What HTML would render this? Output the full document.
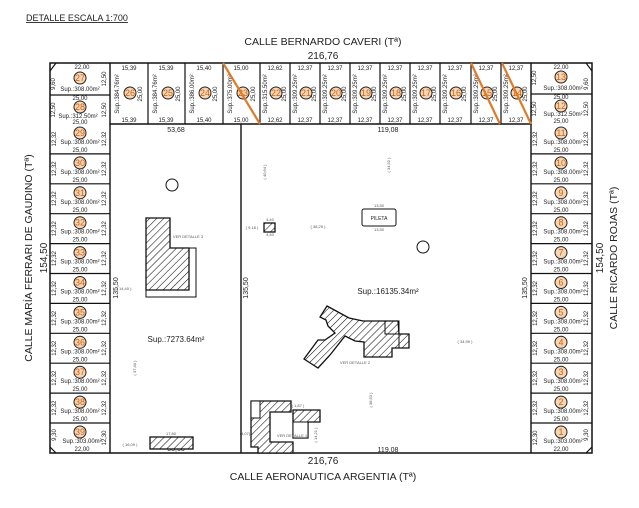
<!DOCTYPE html>
<html><head><meta charset="utf-8"><style>
body{margin:0;background:#fff}
svg{display:block}
text{font-family:"Liberation Sans",sans-serif;fill:#222}
.s{font-size:6px;text-anchor:middle}
.xs{font-size:4px;text-anchor:middle;fill:#555}
.n{font-size:9px;text-anchor:middle;fill:#c8641a}
.b{font-size:10px;text-anchor:middle}
.st{font-size:10.5px;text-anchor:middle}
.c{fill:#f7d6b4;stroke:#222;stroke-width:1}
.l{fill:#fff;stroke:#111;stroke-width:1.4}
.h{fill:url(#hp);stroke:#111;stroke-width:1.3}
</style></head><body>
<svg width="639" height="508" viewBox="0 0 639 508" xmlns="http://www.w3.org/2000/svg">
<defs><pattern id="hp" patternUnits="userSpaceOnUse" width="5" height="5" patternTransform="rotate(45)"><rect width="5" height="5" fill="#fff"/><line x1="0" y1="0" x2="0" y2="5" stroke="#111" stroke-width="1.1"/></pattern></defs>

<text x="26" y="21" style="font-size:9px;text-decoration:underline">DETALLE ESCALA 1:700</text>
<text x="323" y="45" class="st">CALLE BERNARDO CAVERI (Tª)</text>
<text x="323" y="59" class="b">216,76</text>
<text x="323" y="464" class="b">216,76</text>
<text x="323" y="480" class="st">CALLE AERONAUTICA ARGENTIA (Tª)</text>
<text transform="translate(32,258) rotate(-90)" class="st">CALLE MARÍA FERRARI DE GAUDINO (Tª)</text>
<text transform="translate(47,258) rotate(-90)" class="b">154,50</text>
<text transform="translate(603,258) rotate(-90)" class="b">154,50</text>
<text transform="translate(617,258) rotate(-90)" class="st">CALLE RICARDO ROJAS (Tª)</text>

<!-- main boundary -->
<rect x="50" y="63" width="542" height="390" fill="none" stroke="#111" stroke-width="1.5"/>
<polyline points="110,63 110,124 531,124 531,63" fill="none" stroke="#111" stroke-width="1.4"/>
<line x1="110" y1="124" x2="110" y2="453" stroke="#111" stroke-width="1.4"/>
<line x1="531" y1="124" x2="531" y2="453" stroke="#111" stroke-width="1.4"/>
<line x1="241" y1="124" x2="241" y2="453" stroke="#111" stroke-width="1.4"/>

<!-- top lots -->
<g stroke="#111" stroke-width="1.2">
<line x1="148" y1="63" x2="148" y2="124"/><line x1="185" y1="63" x2="185" y2="124"/><line x1="223" y1="63" x2="223" y2="124"/><line x1="260" y1="63" x2="260" y2="124"/><line x1="290" y1="63" x2="290" y2="124"/><line x1="320" y1="63" x2="320" y2="124"/><line x1="350" y1="63" x2="350" y2="124"/><line x1="380" y1="63" x2="380" y2="124"/><line x1="410" y1="63" x2="410" y2="124"/><line x1="440" y1="63" x2="440" y2="124"/><line x1="471" y1="63" x2="471" y2="124"/><line x1="501" y1="63" x2="501" y2="124"/>
<line x1="50" y1="95" x2="110" y2="95"/><line x1="531" y1="94" x2="592" y2="94"/>
<line x1="56" y1="63" x2="50" y2="71"/><line x1="50" y1="447" x2="56" y2="453"/><line x1="586" y1="63" x2="592" y2="71"/><line x1="592" y1="447" x2="586" y2="453"/>
</g>
<g id="toplots">
<g transform="translate(110,63)"><text x="19" y="7" class="s">15,39</text><text x="19" y="59" class="s">15,39</text><text transform="translate(9,31) rotate(-90)" class="s">Sup.:384.76m²</text><circle cx="20" cy="30" r="6" class="c"/><text x="20" y="33" class="n">26</text><text transform="translate(32,31) rotate(-90)" class="s">25,00</text></g>
<g transform="translate(148,63)"><text x="18" y="7" class="s">15,39</text><text x="18" y="59" class="s">15,39</text><text transform="translate(9,31) rotate(-90)" class="s">Sup.:384.76m²</text><circle cx="20" cy="30" r="6" class="c"/><text x="20" y="33" class="n">25</text><text transform="translate(32,31) rotate(-90)" class="s">25,00</text></g>
<g transform="translate(185,63)"><text x="19" y="7" class="s">15,40</text><text x="19" y="59" class="s">15,40</text><text transform="translate(9,31) rotate(-90)" class="s">Sup.:386.00m²</text><circle cx="20" cy="30" r="6" class="c"/><text x="20" y="33" class="n">24</text><text transform="translate(32,31) rotate(-90)" class="s">25,00</text></g>
<g transform="translate(223,63)"><text x="18" y="7" class="s">15,00</text><text x="18" y="59" class="s">15,00</text><text transform="translate(9,31) rotate(-90)" class="s">Sup.:375.00m²</text><circle cx="20" cy="30" r="6" class="c"/><text x="20" y="33" class="n">23</text><text transform="translate(32,31) rotate(-90)" class="s">25,00</text></g>
<g transform="translate(260,63)"><text x="15" y="7" class="s">12,62</text><text x="15" y="59" class="s">12,62</text><text transform="translate(7,31) rotate(-90)" class="s">Sup.:315.50m²</text><circle cx="16" cy="30" r="6" class="c"/><text x="16" y="33" class="n">22</text><text transform="translate(26,31) rotate(-90)" class="s">25,00</text></g>
<g transform="translate(290,63)"><text x="15" y="7" class="s">12,37</text><text x="15" y="59" class="s">12,37</text><text transform="translate(7,31) rotate(-90)" class="s">Sup.:309.25m²</text><circle cx="16" cy="30" r="6" class="c"/><text x="16" y="33" class="n">21</text><text transform="translate(26,31) rotate(-90)" class="s">25,00</text></g>
<g transform="translate(320,63)"><text x="15" y="7" class="s">12,37</text><text x="15" y="59" class="s">12,37</text><text transform="translate(7,31) rotate(-90)" class="s">Sup.:309.25m²</text><circle cx="16" cy="30" r="6" class="c"/><text x="16" y="33" class="n">20</text><text transform="translate(26,31) rotate(-90)" class="s">25,00</text></g>
<g transform="translate(350,63)"><text x="15" y="7" class="s">12,37</text><text x="15" y="59" class="s">12,37</text><text transform="translate(7,31) rotate(-90)" class="s">Sup.:309.25m²</text><circle cx="16" cy="30" r="6" class="c"/><text x="16" y="33" class="n">19</text><text transform="translate(26,31) rotate(-90)" class="s">25,00</text></g>
<g transform="translate(380,63)"><text x="15" y="7" class="s">12,37</text><text x="15" y="59" class="s">12,37</text><text transform="translate(7,31) rotate(-90)" class="s">Sup.:309.25m²</text><circle cx="16" cy="30" r="6" class="c"/><text x="16" y="33" class="n">18</text><text transform="translate(26,31) rotate(-90)" class="s">25,00</text></g>
<g transform="translate(410,63)"><text x="15" y="7" class="s">12,37</text><text x="15" y="59" class="s">12,37</text><text transform="translate(7,31) rotate(-90)" class="s">Sup.:309.25m²</text><circle cx="16" cy="30" r="6" class="c"/><text x="16" y="33" class="n">17</text><text transform="translate(26,31) rotate(-90)" class="s">25,00</text></g>
<g transform="translate(440,63)"><text x="15" y="7" class="s">12,37</text><text x="15" y="59" class="s">12,37</text><text transform="translate(7,31) rotate(-90)" class="s">Sup.:309.25m²</text><circle cx="16" cy="30" r="6" class="c"/><text x="16" y="33" class="n">16</text><text transform="translate(26,31) rotate(-90)" class="s">25,00</text></g>
<g transform="translate(471,63)"><text x="15" y="7" class="s">12,37</text><text x="15" y="59" class="s">12,37</text><text transform="translate(7,31) rotate(-90)" class="s">Sup.:309.25m²</text><circle cx="16" cy="30" r="6" class="c"/><text x="16" y="33" class="n">15</text><text transform="translate(26,31) rotate(-90)" class="s">25,00</text></g>
<g transform="translate(501,63)"><text x="15" y="7" class="s">12,37</text><text x="15" y="59" class="s">12,37</text><text transform="translate(7,31) rotate(-90)" class="s">Sup.:309.25m²</text><circle cx="16" cy="30" r="6" class="c"/><text x="16" y="33" class="n">14</text><text transform="translate(26,31) rotate(-90)" class="s">25,00</text></g>
</g>

<!-- left top lots 27, 28 -->
<text x="82" y="69" class="s">22,00</text><circle cx="80" cy="78" r="6" class="c"/><text x="80" y="81" class="n">27</text><text x="80" y="91" class="s">Sup.:308.00m²</text>
<text transform="translate(106,79) rotate(-90)" class="s">12,50</text><text transform="translate(55,84) rotate(-90)" class="s">9,60</text>
<text x="80" y="100" class="s">25,00</text><circle cx="80" cy="107" r="6" class="c"/><text x="80" y="110" class="n">28</text><text x="78" y="118" class="s">Sup.:312.50m²</text><text x="80" y="124" class="s">25,00</text>
<text transform="translate(55,110) rotate(-90)" class="s">12,50</text><text transform="translate(106,110) rotate(-90)" class="s">12,50</text>
<!-- right top lots 13, 12 -->
<text x="561" y="69" class="s">22,00</text><circle cx="561" cy="77" r="6" class="c"/><text x="561" y="80" class="n">13</text><text x="563" y="90" class="s">Sup.:308.00m²</text>
<text transform="translate(536,78) rotate(-90)" class="s">12,50</text><text transform="translate(588,84) rotate(-90)" class="s">9,60</text>
<text x="561" y="99" class="s">25,00</text><circle cx="561" cy="106" r="6" class="c"/><text x="561" y="109" class="n">12</text><text x="563" y="116" class="s">Sup.:312.50m²</text><text x="561" y="123" class="s">25,00</text>
<text transform="translate(536,109) rotate(-90)" class="s">12,50</text><text transform="translate(588,109) rotate(-90)" class="s">12,50</text>

<!-- left column lots 29-39 -->
<g>
<g transform="translate(50,124)"><circle cx="30" cy="9" r="6" class="c"/><text x="30" y="12" class="n">29</text><text x="30" y="20" class="s">Sup.:308.00m²</text><text x="30" y="28" class="s">25,00</text><text transform="translate(6,15) rotate(-90)" class="s">12,32</text><text transform="translate(56,15) rotate(-90)" class="s">12,32</text><line x1="0" y1="29.9" x2="60" y2="29.9" stroke="#111" stroke-width="1.2"/></g>
<g transform="translate(50,153.9)"><circle cx="30" cy="9" r="6" class="c"/><text x="30" y="12" class="n">30</text><text x="30" y="20" class="s">Sup.:308.00m²</text><text x="30" y="28" class="s">25,00</text><text transform="translate(6,15) rotate(-90)" class="s">12,32</text><text transform="translate(56,15) rotate(-90)" class="s">12,32</text><line x1="0" y1="29.9" x2="60" y2="29.9" stroke="#111" stroke-width="1.2"/></g>
<g transform="translate(50,183.8)"><circle cx="30" cy="9" r="6" class="c"/><text x="30" y="12" class="n">31</text><text x="30" y="20" class="s">Sup.:308.00m²</text><text x="30" y="28" class="s">25,00</text><text transform="translate(6,15) rotate(-90)" class="s">12,32</text><text transform="translate(56,15) rotate(-90)" class="s">12,32</text><line x1="0" y1="29.9" x2="60" y2="29.9" stroke="#111" stroke-width="1.2"/></g>
<g transform="translate(50,213.7)"><circle cx="30" cy="9" r="6" class="c"/><text x="30" y="12" class="n">32</text><text x="30" y="20" class="s">Sup.:308.00m²</text><text x="30" y="28" class="s">25,00</text><text transform="translate(6,15) rotate(-90)" class="s">12,32</text><text transform="translate(56,15) rotate(-90)" class="s">12,32</text><line x1="0" y1="29.9" x2="60" y2="29.9" stroke="#111" stroke-width="1.2"/></g>
<g transform="translate(50,243.6)"><circle cx="30" cy="9" r="6" class="c"/><text x="30" y="12" class="n">33</text><text x="30" y="20" class="s">Sup.:308.00m²</text><text x="30" y="28" class="s">25,00</text><text transform="translate(6,15) rotate(-90)" class="s">12,32</text><text transform="translate(56,15) rotate(-90)" class="s">12,32</text><line x1="0" y1="29.9" x2="60" y2="29.9" stroke="#111" stroke-width="1.2"/></g>
<g transform="translate(50,273.5)"><circle cx="30" cy="9" r="6" class="c"/><text x="30" y="12" class="n">34</text><text x="30" y="20" class="s">Sup.:308.00m²</text><text x="30" y="28" class="s">25,00</text><text transform="translate(6,15) rotate(-90)" class="s">12,32</text><text transform="translate(56,15) rotate(-90)" class="s">12,32</text><line x1="0" y1="29.9" x2="60" y2="29.9" stroke="#111" stroke-width="1.2"/></g>
<g transform="translate(50,303.4)"><circle cx="30" cy="9" r="6" class="c"/><text x="30" y="12" class="n">35</text><text x="30" y="20" class="s">Sup.:308.00m²</text><text x="30" y="28" class="s">25,00</text><text transform="translate(6,15) rotate(-90)" class="s">12,32</text><text transform="translate(56,15) rotate(-90)" class="s">12,32</text><line x1="0" y1="29.9" x2="60" y2="29.9" stroke="#111" stroke-width="1.2"/></g>
<g transform="translate(50,333.3)"><circle cx="30" cy="9" r="6" class="c"/><text x="30" y="12" class="n">36</text><text x="30" y="20" class="s">Sup.:308.00m²</text><text x="30" y="28" class="s">25,00</text><text transform="translate(6,15) rotate(-90)" class="s">12,32</text><text transform="translate(56,15) rotate(-90)" class="s">12,32</text><line x1="0" y1="29.9" x2="60" y2="29.9" stroke="#111" stroke-width="1.2"/></g>
<g transform="translate(50,363.2)"><circle cx="30" cy="9" r="6" class="c"/><text x="30" y="12" class="n">37</text><text x="30" y="20" class="s">Sup.:308.00m²</text><text x="30" y="28" class="s">25,00</text><text transform="translate(6,15) rotate(-90)" class="s">12,32</text><text transform="translate(56,15) rotate(-90)" class="s">12,32</text><line x1="0" y1="29.9" x2="60" y2="29.9" stroke="#111" stroke-width="1.2"/></g>
<g transform="translate(50,393.1)"><circle cx="30" cy="9" r="6" class="c"/><text x="30" y="12" class="n">38</text><text x="30" y="20" class="s">Sup.:308.00m²</text><text x="30" y="28" class="s">25,00</text><text transform="translate(6,15) rotate(-90)" class="s">12,32</text><text transform="translate(56,15) rotate(-90)" class="s">12,32</text><line x1="0" y1="29.9" x2="60" y2="29.9" stroke="#111" stroke-width="1.2"/></g>
<g transform="translate(50,423)"><circle cx="30" cy="9" r="6" class="c"/><text x="30" y="12" class="n">39</text><text x="32" y="20" class="s">Sup.:303.00m²</text><text x="32" y="28" class="s">22,00</text><text transform="translate(6,12) rotate(-90)" class="s">9,30</text><text transform="translate(56,15) rotate(-90)" class="s">12,30</text></g>
</g>

<!-- right column lots 11-1 -->
<g>
<g transform="translate(531,124)"><circle cx="30" cy="9" r="6" class="c"/><text x="30" y="12" class="n">11</text><text x="32" y="20" class="s">Sup.:308.00m²</text><text x="30" y="28" class="s">25,00</text><text transform="translate(6,15) rotate(-90)" class="s">12,32</text><text transform="translate(57,15) rotate(-90)" class="s">12,32</text><line x1="0" y1="29.9" x2="61" y2="29.9" stroke="#111" stroke-width="1.2"/></g>
<g transform="translate(531,153.9)"><circle cx="30" cy="9" r="6" class="c"/><text x="30" y="12" class="n">10</text><text x="32" y="20" class="s">Sup.:308.00m²</text><text x="30" y="28" class="s">25,00</text><text transform="translate(6,15) rotate(-90)" class="s">12,32</text><text transform="translate(57,15) rotate(-90)" class="s">12,32</text><line x1="0" y1="29.9" x2="61" y2="29.9" stroke="#111" stroke-width="1.2"/></g>
<g transform="translate(531,183.8)"><circle cx="30" cy="9" r="6" class="c"/><text x="30" y="12" class="n">9</text><text x="32" y="20" class="s">Sup.:308.00m²</text><text x="30" y="28" class="s">25,00</text><text transform="translate(6,15) rotate(-90)" class="s">12,32</text><text transform="translate(57,15) rotate(-90)" class="s">12,32</text><line x1="0" y1="29.9" x2="61" y2="29.9" stroke="#111" stroke-width="1.2"/></g>
<g transform="translate(531,213.7)"><circle cx="30" cy="9" r="6" class="c"/><text x="30" y="12" class="n">8</text><text x="32" y="20" class="s">Sup.:308.00m²</text><text x="30" y="28" class="s">25,00</text><text transform="translate(6,15) rotate(-90)" class="s">12,32</text><text transform="translate(57,15) rotate(-90)" class="s">12,32</text><line x1="0" y1="29.9" x2="61" y2="29.9" stroke="#111" stroke-width="1.2"/></g>
<g transform="translate(531,243.6)"><circle cx="30" cy="9" r="6" class="c"/><text x="30" y="12" class="n">7</text><text x="32" y="20" class="s">Sup.:308.00m²</text><text x="30" y="28" class="s">25,00</text><text transform="translate(6,15) rotate(-90)" class="s">12,32</text><text transform="translate(57,15) rotate(-90)" class="s">12,32</text><line x1="0" y1="29.9" x2="61" y2="29.9" stroke="#111" stroke-width="1.2"/></g>
<g transform="translate(531,273.5)"><circle cx="30" cy="9" r="6" class="c"/><text x="30" y="12" class="n">6</text><text x="32" y="20" class="s">Sup.:308.00m²</text><text x="30" y="28" class="s">25,00</text><text transform="translate(6,15) rotate(-90)" class="s">12,32</text><text transform="translate(57,15) rotate(-90)" class="s">12,32</text><line x1="0" y1="29.9" x2="61" y2="29.9" stroke="#111" stroke-width="1.2"/></g>
<g transform="translate(531,303.4)"><circle cx="30" cy="9" r="6" class="c"/><text x="30" y="12" class="n">5</text><text x="32" y="20" class="s">Sup.:308.00m²</text><text x="30" y="28" class="s">25,00</text><text transform="translate(6,15) rotate(-90)" class="s">12,32</text><text transform="translate(57,15) rotate(-90)" class="s">12,32</text><line x1="0" y1="29.9" x2="61" y2="29.9" stroke="#111" stroke-width="1.2"/></g>
<g transform="translate(531,333.3)"><circle cx="30" cy="9" r="6" class="c"/><text x="30" y="12" class="n">4</text><text x="32" y="20" class="s">Sup.:308.00m²</text><text x="30" y="28" class="s">25,00</text><text transform="translate(6,15) rotate(-90)" class="s">12,32</text><text transform="translate(57,15) rotate(-90)" class="s">12,32</text><line x1="0" y1="29.9" x2="61" y2="29.9" stroke="#111" stroke-width="1.2"/></g>
<g transform="translate(531,363.2)"><circle cx="30" cy="9" r="6" class="c"/><text x="30" y="12" class="n">3</text><text x="32" y="20" class="s">Sup.:308.00m²</text><text x="30" y="28" class="s">25,00</text><text transform="translate(6,15) rotate(-90)" class="s">12,32</text><text transform="translate(57,15) rotate(-90)" class="s">12,32</text><line x1="0" y1="29.9" x2="61" y2="29.9" stroke="#111" stroke-width="1.2"/></g>
<g transform="translate(531,393.1)"><circle cx="30" cy="9" r="6" class="c"/><text x="30" y="12" class="n">2</text><text x="32" y="20" class="s">Sup.:308.00m²</text><text x="30" y="28" class="s">25,00</text><text transform="translate(6,15) rotate(-90)" class="s">12,32</text><text transform="translate(57,15) rotate(-90)" class="s">12,32</text><line x1="0" y1="29.9" x2="61" y2="29.9" stroke="#111" stroke-width="1.2"/></g>
<g transform="translate(531,423)"><circle cx="30" cy="9" r="6" class="c"/><text x="30" y="12" class="n">1</text><text x="32" y="20" class="s">Sup.:303.00m²</text><text x="30" y="28" class="s">22,00</text><text transform="translate(6,15) rotate(-90)" class="s">12,30</text><text transform="translate(57,12) rotate(-90)" class="s">9,30</text></g>
</g>

<!-- orange lines -->
<g stroke="#e07b2a" stroke-width="2.2">
<line x1="223" y1="63" x2="260" y2="124"/><line x1="471" y1="63" x2="500" y2="124"/><line x1="502" y1="63" x2="531" y2="124"/>
</g>

<!-- interior labels -->
<text x="176" y="132" class="s" style="font-size:7px">53,68</text>
<text x="388" y="132" class="s" style="font-size:7px">119,08</text>
<text x="176" y="451" class="s" style="font-size:7px">53,68</text>
<text x="388" y="452" class="s" style="font-size:7px">119,08</text>
<text transform="translate(118,288) rotate(-90)" class="s" style="font-size:7px">135,50</text>
<text transform="translate(248,288) rotate(-90)" class="s" style="font-size:7px">135,50</text>
<text transform="translate(527,288) rotate(-90)" class="s" style="font-size:7px">135,50</text>
<text x="176" y="342" class="s" style="font-size:8px">Sup.:7273.64m²</text>
<text x="388" y="294" class="s" style="font-size:8px">Sup.:16135.34m²</text>

<circle cx="172" cy="185" r="6" fill="none" stroke="#111"/>
<circle cx="423" cy="247" r="6" fill="none" stroke="#111"/>

<!-- left building -->
<rect x="146" y="248" width="50" height="49" fill="none" stroke="#111" stroke-width="1"/>
<polygon points="146,218 170,218 170,248 189,248 189,290 146,290" class="h"/>
<text x="188" y="238" class="xs">VER DETALLE 3</text>
<text x="124" y="290" class="xs">( 14,40 )</text>

<!-- pileta -->
<rect x="362" y="209" width="34" height="17" rx="2" fill="#fff" stroke="#111" stroke-width="1"/>
<text x="379" y="220" class="s" style="font-size:5px">PILETA</text>
<text x="379" y="207" class="xs">13,50</text><text x="379" y="231" class="xs">13,50</text>
<rect x="264" y="223" width="11" height="9" class="h"/>
<text x="270" y="221" class="xs">4,40</text><text x="270" y="236" class="xs">4,40</text>
<text x="252" y="229" class="xs">( 9,18 )</text>
<text x="318" y="228" class="xs">( 38,29 )</text>
<text transform="translate(266,172) rotate(-90)" class="xs">( 40,64 )</text>
<text transform="translate(390,165) rotate(-90)" class="xs">( 34,92 )</text>

<!-- central building -->
<polygon points="327,306 349,318 363,321 398,321 399,334 409,334 409,348 392,348 392,357 364,357 364,342 355,341 345,336 330,355 318,368 304,359 318,340 325,340 335,333 328,326 326,320 320,317" class="h"/>
<rect x="385" y="321" width="14" height="13" fill="none" stroke="#111"/>
<rect x="399" y="334" width="10" height="14" fill="none" stroke="#111"/>
<text x="355" y="364" class="xs">VER DETALLE 2</text>
<text x="465" y="343" class="xs">( 34,99 )</text>
<text transform="translate(372,400) rotate(-90)" class="xs">( 38,53 )</text>
<text transform="translate(136,368) rotate(-90)" class="xs">( 37,40 )</text>

<!-- bottom buildings -->
<polygon points="251,401 291,401 291,412 270,412 270,442 293,442 293,453 258,453 258,447 251,447" class="h"/>
<rect x="251" y="401" width="9" height="17" fill="#fff" stroke="#111"/>
<polygon points="293,410 320,410 320,422 308,422 308,438 293,438" class="h"/>
<rect x="293" y="422" width="15" height="16" fill="#fff" stroke="#111"/>
<text x="292" y="437" class="xs">VER DETALLE 1</text>
<text x="298" y="407" class="xs">( 1,87 )</text>
<text x="245" y="435" class="xs">(4,07)</text>
<text transform="translate(317,435) rotate(-90)" class="xs">( 14,21 )</text>
<rect x="150" y="437" width="43" height="12" class="h"/>
<text x="171" y="435" class="xs">17,80</text>
<text x="130" y="446" class="xs">( 16,09 )</text>
</svg>
</body></html>
